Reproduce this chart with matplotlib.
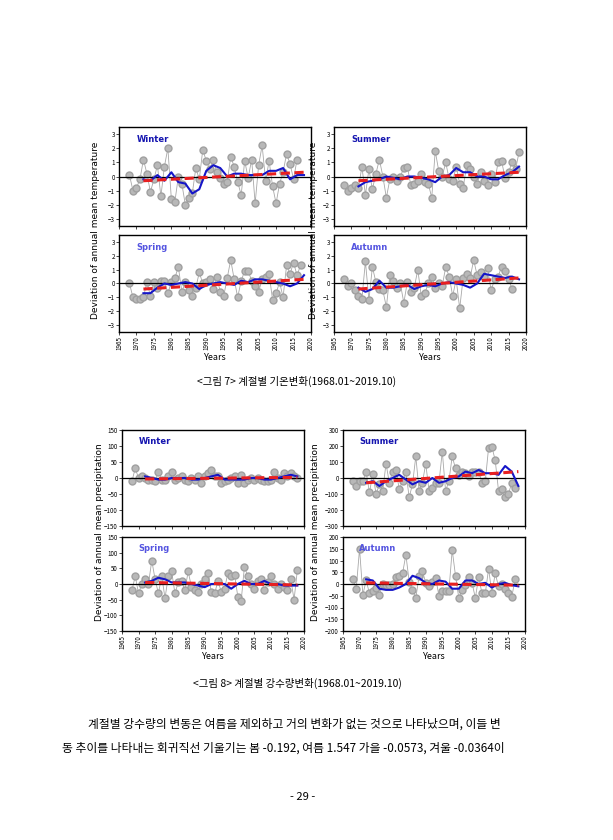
import matplotlib
matplotlib.use("Agg")
import matplotlib.pyplot as plt
import numpy as np

plt.rcParams['font.family'] = ['Noto Sans CJK KR', 'DejaVu Sans']

W, H = 613, 840

# temperature deviations (1968 onward)
t_winter = [0.1, -1.0, -0.8, -0.2, 1.2, 0.2, -1.1, -0.2, 0.8, -1.4, 0.7, 2.0, -1.6, -1.8, 0.0, -0.5,
            -2.0, -1.5, -1.2, 0.6, -0.2, 1.9, 1.1, 0.5, 1.2, 0.3, -0.1, -0.5, -0.4, 1.4, 0.7, -0.4,
            -1.3, 1.1, -0.1, 1.2, -1.9, 0.8, 2.2, -0.3, 1.1, -0.7, -1.9, -0.5, 0.3, 1.6, 0.9, -0.2, 1.2]
t_summer = [-0.6, -1.0, -0.8, -0.6, -0.8, 0.7, -1.3, 0.5, -0.9, 0.2, 1.2, 0.0, -1.5, -0.2, 0.0, -0.3,
            0.0, 0.6, 0.7, -0.6, -0.5, -0.3, 0.2, -0.4, -0.5, -1.5, 1.8, 0.4, 0.0, 1.0, -0.2, -0.3,
            0.7, -0.5, -0.8, 0.8, 0.5, 0.0, -0.5, 0.3, -0.3, -0.6, 0.2, -0.4, 1.0, 1.1, -0.1, 0.3,
            1.0, 0.5, 1.7]
t_spring = [0.0, -1.0, -1.1, -1.1, -1.0, 0.1, -0.9, 0.1, -0.3, 0.2, 0.2, -0.7, 0.1, 0.4, 1.2, -0.6,
            0.1, -0.5, -0.9, -0.3, 0.8, 0.0, 0.1, 0.3, -0.4, 0.5, -0.6, -0.9, 0.4, 1.7, 0.3, -1.0,
            0.2, 0.9, 0.9, 0.2, -0.2, -0.6, 0.3, 0.5, 0.7, -1.2, -0.7, 0.1, -1.0, 1.3, 0.7, 1.5,
            0.6, 1.3]
t_autumn = [0.3, -0.2, 0.0, -0.5, -0.9, -1.1, 1.6, -1.2, 1.2, 0.1, -0.4, -0.5, -1.7, 0.6, 0.2, -0.3,
            0.0, -1.4, 0.1, -0.6, -0.3, 1.0, -0.9, -0.7, 0.0, 0.5, -0.3, 0.0, -0.2, 1.2, 0.5, -0.9,
            0.3, -1.8, 0.4, 0.7, 0.4, 1.7, 0.6, 0.8, 0.5, 1.1, -0.5, 0.3, 0.5, 1.2, 0.9, 0.3, -0.4]

# smoothed curves, every 2 years from 1972
tb_winter = [-0.2, -0.3, 0.1, -0.3, 0.3, -0.4, -0.5, -1.2, -0.9, 0.4, 0.8, 0.6, 0.0, 0.2, 0.2, 0.1,
             0.1, 0.1, 0.4, 0.4, 0.6, -0.2, 0.1, 0.1]
tb_summer = [-0.7, -0.4, -0.3, -0.2, 0.0, -0.1, -0.2, 0.0, 0.0, -0.1, -0.2, -0.4, 0.0, 0.1, 0.6, 0.3,
             0.3, 0.0, 0.0, -0.2, -0.2, 0.1, 0.3, 0.7]
tb_spring = [-0.7, -0.7, -0.3, 0.0, -0.1, 0.0, 0.1, 0.0, -0.4, -0.1, 0.0, 0.1, 0.0, -0.1, 0.2, 0.1,
             0.3, 0.3, 0.2, 0.1, 0.0, -0.2, 0.0, 0.6]
tb_autumn = [-0.3, -0.6, -0.4, 0.2, -0.3, -0.3, -0.2, -0.1, -0.4, -0.2, -0.1, -0.2, 0.0, 0.1, 0.0, -0.1,
             -0.3, 0.0, 0.7, 0.6, 0.5, 0.4, 0.5, 0.3]
# linear trend endpoints (1972, 2018)
tr_winter = [-0.3, 0.3]
tr_summer = [-0.3, 0.3]
tr_spring = [-0.4, 0.3]
tr_autumn = [-0.4, 0.4]

# precipitation deviations (1968 onward)
p_winter = [-10, 30, 0, 5, 0, -5, -5, -10, 20, -5, -5, 5, 20, -5, 0, 5, -5, -10, 0, -5, 5, -15, 5, 15,
            25, 5, 5, -15, -10, -5, 0, 5, -15, 10, -15, -5, 0, -5, 0, -5, -10, -10, -5, 20, 0, -5,
            15, 5, 15, 5, 0]
p_summer = [-20, -50, -20, -20, 35, -90, 25, -100, -40, -80, 90, -30, 40, 50, -70, -20, 35, -120, -40,
            135, -80, -30, 90, -80, -60, -30, -30, 165, -80, -20, 135, 60, 20, 40, 30, 10, 40, 40, 40,
            -30, -20, 190, 195, 110, -80, -70, -120, -100, -30, -60]
p_spring = [-20, 25, -30, 0, 15, 0, 75, 15, -30, 25, -45, 25, 40, -30, 5, 10, -20, 40, -10, -20, -25, 0,
            15, 35, -25, -30, 10, -25, -15, 35, 25, 30, -40, -55, 55, 25, 0, -15, 10, 15, -20, 5, 25,
            0, -15, 0, -10, -20, 15, -50, 45]
p_autumn = [20, -20, 150, -45, 15, -40, -30, -15, -45, 0, -5, -5, 0, 30, 35, 45, 125, 10, -25, -60, 35,
            55, 5, -10, 10, 25, -50, -30, -30, -30, 145, 35, -60, -25, -5, 30, 5, -60, 30, -40, -40,
            65, -40, 45, -10, 0, -20, -40, -55, 20]
pb_winter = [5, 0, -5, -5, 0, 0, 0, -5, -5, 0, 5, 10, -5, -5, -5, -5, 0, 0, -5, -5, 0, 5, 10, 5]
pb_summer = [-30, -20, -50, -20, 0, 20, -10, -40, -20, -30, 0, -30, -20, 0, 10, 40, 30, 50, 30, 30,
             20, 75, 40, -50]
pb_spring = [5, 10, 20, 15, 5, 5, 5, 0, -5, -10, 0, 0, 0, -15, 0, 10, 0, 0, 10, 0, 0, -5, -5, -5]
pb_autumn = [20, 15, -20, -25, -25, -15, 0, 35, 25, 5, 0, 15, 10, -20, -20, 15, 15, 0, 5, -15, 0, 5,
             -5, -10]
pr_winter = [-3, 2]
pr_summer = [-30, 40]
pr_spring = [5, -3]
pr_autumn = [5, -5]

year_ticks = list(range(1965, 2021, 5))


def add_ax(fig, x0, y0, x1, y1):
    return fig.add_axes([x0 / W, 1 - y1 / H, (x1 - x0) / W, (y1 - y0) / H])


def panel(ax, vals, blue, trend, name, ylim, yticks, name_color, bottom):
    yrs = np.arange(1968, 1968 + len(vals))
    ax.plot(yrs, vals, color="#a8a8a8", lw=0.6, marker="o", ms=5,
            mfc="#b8b8b8", mec="#a0a0a0", zorder=2)
    ax.axhline(0, color="black", lw=0.9, zorder=3)
    by = np.arange(1972, 1972 + 2 * len(blue), 2)
    ax.plot(by, blue, color="#1515c8", lw=1.5, zorder=4)
    ax.plot([1972, 2018], trend, color="#e82020", lw=2.2, ls=(0, (3, 1.5)), zorder=5)
    ax.set_xlim(1965, 2020)
    ax.set_ylim(*ylim)
    ax.set_yticks(yticks)
    ax.set_xticks(year_ticks)
    ax.tick_params(labelsize=4.5, length=2, width=0.5, pad=1)
    if bottom:
        ax.set_xticklabels(year_ticks, rotation=90)
        ax.set_xlabel("Years", fontsize=6.5, labelpad=2)
    else:
        ax.set_xticklabels([])
    for s in ax.spines.values():
        s.set_linewidth(1.0)
    ax.text(0.09, 0.85, name, transform=ax.transAxes, color=name_color,
            fontsize=6, fontweight="bold", family="DejaVu Sans")


fig = plt.figure(figsize=(W / 100, H / 100), dpi=100)

dark = "#1515b0"
light = "#5555e0"
tt = [-3, -2, -1, 0, 1, 2, 3]
tl = (-3.5, 3.5)
panel(add_ax(fig, 119, 127, 311, 226), t_winter, tb_winter, tr_winter, "Winter", tl, tt, dark, False)
panel(add_ax(fig, 334, 127, 526, 226), t_summer, tb_summer, tr_summer, "Summer", tl, tt, dark, False)
panel(add_ax(fig, 119, 235, 311, 332), t_spring, tb_spring, tr_spring, "Spring", tl, tt, light, True)
panel(add_ax(fig, 334, 235, 526, 332), t_autumn, tb_autumn, tr_autumn, "Autumn", tl, tt, light, True)

panel(add_ax(fig, 122, 430, 304, 526), p_winter, pb_winter, pr_winter, "Winter",
      (-150, 150), range(-150, 151, 50), dark, False)
panel(add_ax(fig, 343, 430, 525, 526), p_summer, pb_summer, pr_summer, "Summer",
      (-300, 300), range(-300, 301, 100), dark, False)
panel(add_ax(fig, 122, 537, 304, 631), p_spring, pb_spring, pr_spring, "Spring",
      (-150, 150), range(-150, 151, 50), light, True)
panel(add_ax(fig, 343, 537, 525, 631), p_autumn, pb_autumn, pr_autumn, "Autumn",
      (-200, 200), range(-200, 201, 50), light, True)

ylab = dict(rotation=90, fontsize=6.5, ha="center", va="center", family="DejaVu Sans")
fig.text(96 / W, 1 - 230 / H, "Deviation of annual mean temperature", **ylab)
fig.text(314 / W, 1 - 230 / H, "Deviation of annual mean temperature", **ylab)
fig.text(100 / W, 1 - 532 / H, "Deviation of annual mean precipitation", **ylab)
fig.text(316 / W, 1 - 532 / H, "Deviation of annual mean precipitation", **ylab)

fig.text(297 / W, 1 - 381 / H, "<그림 7> 계절별 기온변화(1968.01~2019.10)", fontsize=7.5,
         ha="center", va="center")
fig.text(297 / W, 1 - 683 / H, "<그림 8> 계절별 강수량변화(1968.01~2019.10)", fontsize=7.5,
         ha="center", va="center")
fig.text(88 / W, 1 - 724 / H,
         "계절별 강수량의 변동은 여름을 제외하고 거의 변화가 없는 것으로 나타났으며, 이들 변",
         fontsize=8.5, ha="left", va="center")
fig.text(62 / W, 1 - 748 / H,
         "동 추이를 나타내는 회귀직선 기울기는 봄 -0.192, 여름 1.547 가을 -0.0573, 겨울 -0.0364이",
         fontsize=8.5, ha="left", va="center")
fig.text(303 / W, 1 - 797 / H, "- 29 -", fontsize=8, ha="center", va="center")

fig.savefig("out.png", dpi=100)
